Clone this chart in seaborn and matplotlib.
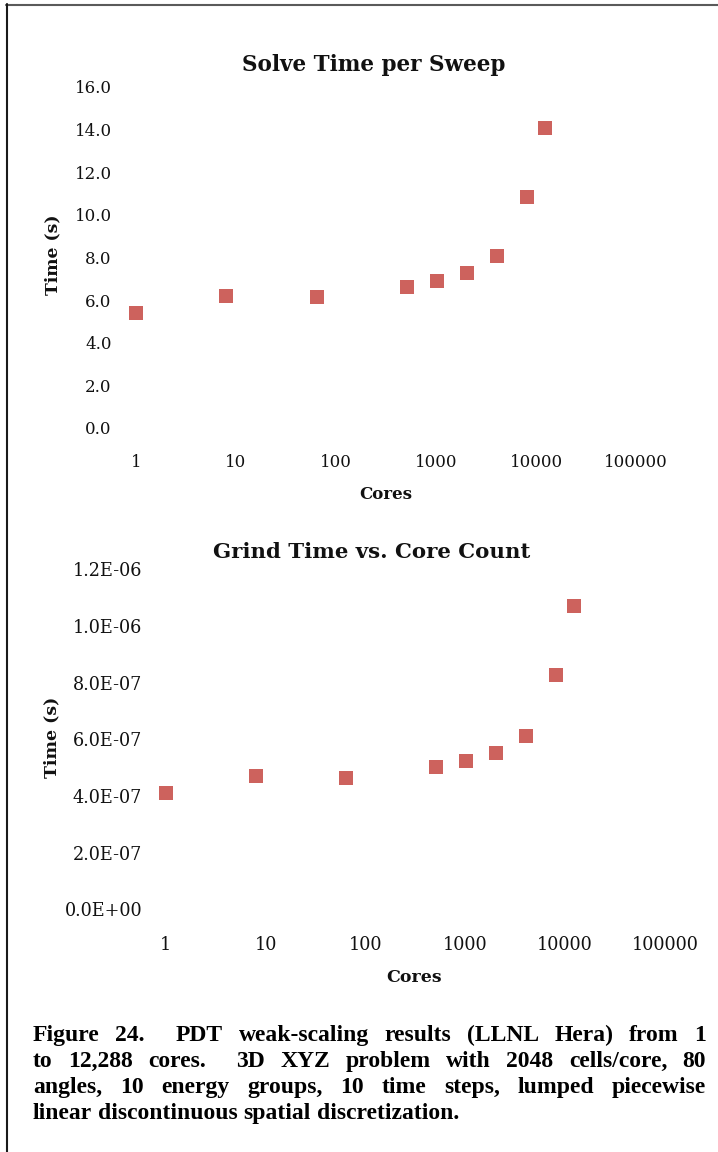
import re

import matplotlib
matplotlib.use("Agg")
import matplotlib.pyplot as plt
from matplotlib.lines import Line2D
from matplotlib.ticker import FixedLocator, FixedFormatter, NullLocator
import pandas as pd
import seaborn as sns

# ---- data -------------------------------------------------------------
cores = [1, 8, 64, 512, 1024, 2048, 4096, 8192, 12288]
solve_time = [5.40, 6.20, 6.13, 6.62, 6.91, 7.27, 8.05, 10.84, 14.05]
grind_time = [4.09e-7, 4.72e-7, 4.64e-7, 5.03e-7, 5.24e-7, 5.53e-7,
              6.12e-7, 8.26e-7, 1.072e-6]

x_ticks = [1, 10, 100, 1000, 10000, 100000]
x_tick_labels = ["1", "10", "100", "1000", "10000", "100000"]
solve_yticks = [0.0, 2.0, 4.0, 6.0, 8.0, 10.0, 12.0, 14.0, 16.0]
grind_yticks = [0.0, 2e-7, 4e-7, 6e-7, 8e-7, 1.0e-6, 1.2e-6]

solve_title = "Solve Time per Sweep"
grind_title = "Grind Time vs. Core Count"
x_label = "Cores"
y_label = "Time (s)"

caption_lines = [
    "Figure 24.  PDT weak-scaling results (LLNL Hera) from 1",
    "to 12,288 cores.  3D XYZ problem with 2048 cells/core, 80",
    "angles, 10 energy groups, 10 time steps, lumped piecewise",
    "linear discontinuous spatial discretization.",
]

# ---- style ------------------------------------------------------------
sns.set_theme(style="white")
plt.rcParams["font.family"] = ["DejaVu Serif"]
plt.rcParams["text.color"] = "#111111"

MARKER_COLOR = "#CD625D"
W, H = 718, 1152
fig = plt.figure(figsize=(W / 100, H / 100), dpi=100)
fig.patch.set_facecolor("white")


def px_box(left, top, right, bottom):
    return [left / W, 1 - bottom / H, (right - left) / W, (bottom - top) / H]


def draw_panel(ax, values, yticks, yfmt, ylim, tick_size, ypad, xpad):
    df = pd.DataFrame({"cores": cores, "time": values})
    sns.scatterplot(data=df, x="cores", y="time", ax=ax, marker="s", s=92,
                    color=MARKER_COLOR, linewidth=0, clip_on=False, zorder=3)
    ax.set_xscale("log")
    ax.set_xlim(1, 100000)
    ax.set_ylim(*ylim)
    ax.xaxis.set_major_locator(FixedLocator(x_ticks))
    ax.xaxis.set_major_formatter(FixedFormatter(x_tick_labels))
    ax.xaxis.set_minor_locator(NullLocator())
    ax.yaxis.set_major_locator(FixedLocator(yticks))
    ax.yaxis.set_major_formatter(FixedFormatter([yfmt.format(v) for v in yticks]))
    ax.tick_params(axis="y", length=0, pad=ypad, labelsize=tick_size,
                   labelcolor="#111111")
    ax.tick_params(axis="x", length=0, pad=xpad, labelsize=tick_size,
                   labelcolor="#111111")
    for sp in ax.spines.values():
        sp.set_visible(False)
    ax.grid(False)
    ax.set_xlabel("")
    ax.set_ylabel("")
    ax.set_facecolor("none")


ax1 = fig.add_axes(px_box(136, 86.7, 636, 428))
draw_panel(ax1, solve_time, solve_yticks, "{:.1f}", (0, 16), 12, 17.5, 18.4)

ax2 = fig.add_axes(px_box(165.7, 569.3, 665, 909.3))
draw_panel(ax2, grind_time, grind_yticks, "{:.1E}", (0, 1.2e-6), 12.7, 16.8, 19.4)

# titles and axis labels
fig.text(373.5 / W, 1 - 71 / H, solve_title, ha="center", va="baseline",
         fontsize=15.5, fontweight="bold")
fig.text(371.7 / W, 1 - 558 / H, grind_title, ha="center", va="baseline",
         fontsize=15.3, fontweight="bold")
fig.text(386 / W, 1 - 499 / H, x_label, ha="center", va="baseline",
         fontsize=12, fontweight="bold")
fig.text(414 / W, 1 - 982.5 / H, x_label, ha="center", va="baseline",
         fontsize=12.5, fontweight="bold")
fig.text(52.7 / W, 1 - 255 / H, y_label, ha="center", va="center",
         rotation=90, fontsize=12.3, fontweight="bold")
fig.text(52 / W, 1 - 737 / H, y_label, ha="center", va="center",
         rotation=90, fontsize=12.5, fontweight="bold")

# frame lines around the figure block
fig.add_artist(Line2D([6 / W, 1.0], [1 - 4.5 / H, 1 - 4.5 / H],
                      transform=fig.transFigure, color="#5a5a5a", lw=1.5))
fig.add_artist(Line2D([7.3 / W, 7.3 / W], [1 - 4 / H, 0.0],
                      transform=fig.transFigure, color="#1a1a1a", lw=1.5))

# ---- justified caption ------------------------------------------------
cap_font = dict(family="Liberation Serif", fontweight="bold", fontsize=17,
                color="black")
renderer = fig.canvas.get_renderer()


def text_width(s):
    t = fig.text(0, 0, s, **cap_font)
    w = t.get_window_extent(renderer).width
    t.remove()
    return w


space_w = text_width("n n") - text_width("nn")
x_left, x_right = 33, 706
baselines = [1041, 1067, 1093, 1119]

for i, (line, base) in enumerate(zip(caption_lines, baselines)):
    tokens = re.split(r"( +)", line)
    words = tokens[0::2]
    gaps = [len(g) for g in tokens[1::2]]
    widths = [text_width(w) for w in words]
    justify = i < len(caption_lines) - 1
    if justify and gaps:
        unit = (x_right - x_left - sum(widths)) / sum(gaps)
    else:
        unit = space_w
    x = x_left
    for j, (w, wd) in enumerate(zip(words, widths)):
        fig.text(x / W, 1 - base / H, w, ha="left", va="baseline", **cap_font)
        x += wd
        if j < len(gaps):
            x += gaps[j] * unit

fig.savefig("out.png", dpi=100)
